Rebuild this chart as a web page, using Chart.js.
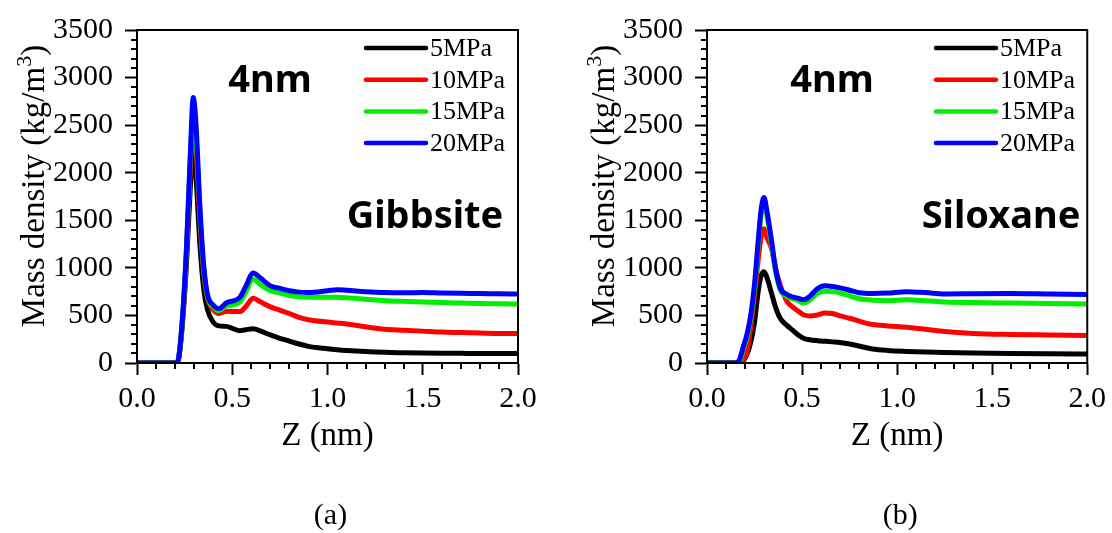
<!DOCTYPE html>
<html>
<head>
<meta charset="utf-8">
<script src="https://cdn.jsdelivr.net/npm/chart.js@4.4.1/dist/chart.umd.min.js"></script>
<style>
  html, body { margin: 0; padding: 0; background: #fff; }
  body { width: 1112px; height: 533px; position: relative; overflow: hidden; }
  canvas { position: absolute; top: 0; }
</style>
</head>
<body>
<canvas id="gibbsite" width="570" height="533" style="left:0"></canvas>
<canvas id="siloxane" width="542" height="533" style="left:570px"></canvas>
<script>
// pressure series, shared by both panels
const pressures = ["5MPa", "10MPa", "15MPa", "20MPa"];

// (a) Gibbsite wall: Z (nm) and mass density (kg/m3)
const zGibbsite = [0, 0.2, 0.21, 0.22, 0.24, 0.26, 0.28, 0.295, 0.31, 0.33, 0.35, 0.37, 0.40, 0.43,
  0.47, 0.50, 0.54, 0.57, 0.61, 0.65, 0.70, 0.75, 0.80, 0.85, 0.90, 1.0, 1.05, 1.1, 1.2, 1.3,
  1.4, 1.5, 1.6, 1.7, 1.8, 1.9, 2.0];
const gib5 = [0, 0, 0, 60, 450, 1050, 1850, 2260, 1950, 1250, 780, 560, 430, 390,
  385, 365, 340, 350, 360, 335, 295, 260, 230, 200, 175, 150, 140, 132, 120, 112,
  108, 105, 103, 102, 100, 100, 100];
const gib10 = [0, 0, 0, 65, 480, 1150, 2050, 2520, 2250, 1500, 950, 680, 560, 520,
  545, 540, 540, 590, 680, 640, 590, 555, 520, 480, 455, 430, 420, 410, 380, 355,
  345, 335, 325, 320, 315, 310, 310];
const gib15 = [0, 0, 0, 70, 500, 1200, 2150, 2650, 2380, 1600, 1000, 700, 590, 550,
  600, 610, 640, 740, 880, 820, 760, 735, 710, 695, 690, 690, 690, 685, 670, 655,
  648, 642, 635, 630, 625, 622, 620];
const gib20 = [0, 0, 0, 70, 510, 1230, 2200, 2790, 2500, 1650, 1030, 720, 610, 572,
  634, 650, 690, 800, 946, 890, 811, 785, 760, 745, 740, 759, 770, 765, 750, 740,
  738, 740, 735, 732, 730, 727, 725];

// (b) Siloxane wall
const zSiloxane = [0, 0.15, 0.17, 0.19, 0.21, 0.23, 0.25, 0.27, 0.285, 0.30, 0.315, 0.34, 0.36,
  0.385, 0.42, 0.45, 0.48, 0.51, 0.54, 0.58, 0.62, 0.66, 0.70, 0.75, 0.80, 0.87, 0.95,
  1.05, 1.15, 1.25, 1.4, 1.6, 1.8, 2.0];
const sil5 = [0, 0, 0, 20, 90, 220, 430, 760, 920, 960, 900, 730, 590,
  470, 395, 345, 295, 258, 245, 235, 228, 222, 215, 200, 178, 148, 132,
  122, 115, 110, 105, 100, 97, 95];
const sil10 = [0, 0, 0, 30, 120, 380, 720, 1100, 1330, 1410, 1320, 1200, 1000,
  820, 650, 590, 545, 505, 495, 505, 525, 520, 495, 470, 440, 405, 390,
  375, 355, 330, 310, 300, 295, 290];
const sil15 = [0, 0, 5, 140, 270, 470, 780, 1250, 1570, 1680, 1550, 1230, 970,
  770, 700, 675, 655, 630, 660, 730, 755, 750, 735, 705, 675, 660, 655,
  665, 655, 640, 635, 630, 625, 620];
const sil20 = [0, 0, 30, 166, 300, 500, 830, 1300, 1620, 1740, 1600, 1280, 1000,
  790, 720, 695, 680, 666, 700, 780, 812, 805, 790, 765, 738, 730, 735,
  750, 740, 725, 728, 730, 725, 720];

const lineColors = ["#000000", "#ff0000", "#00ee00", "#0000ff"];
const serif = '"Times New Roman", "Liberation Serif", serif';
const sans = '"Noto Sans", "Open Sans", sans-serif';

Chart.defaults.color = "#000";

// box, minor ticks, legend, titles and labels
function panelDecor(o) {
  return {
    id: "panelDecor",
    afterDraw(chart) {
      const { ctx, chartArea: a } = chart;
      const xs = chart.scales.x, ys = chart.scales.y;
      ctx.save();
      ctx.strokeStyle = "#000";
      ctx.lineWidth = 2;
      ctx.strokeRect(a.left, a.top, a.right - a.left, a.bottom - a.top);

      ctx.beginPath();
      for (let k = 1; k < 20; k++) {
        if (k % 5 === 0) continue;
        const px = Math.round(xs.getPixelForValue(k / 10));
        ctx.moveTo(px, a.bottom);
        ctx.lineTo(px, a.bottom + 6);
      }
      for (let v = 100; v < 3500; v += 100) {
        if (v % 500 === 0) continue;
        const py = Math.round(ys.getPixelForValue(v));
        ctx.moveTo(a.left, py);
        ctx.lineTo(a.left - 6, py);
      }
      ctx.stroke();

      // legend
      ctx.font = "26px " + serif;
      ctx.textAlign = "left";
      ctx.textBaseline = "middle";
      ctx.lineCap = "round";
      pressures.forEach((p, i) => {
        const y = 48 + i * 31.7;
        ctx.strokeStyle = lineColors[i];
        ctx.lineWidth = 4.5;
        ctx.beginPath();
        ctx.moveTo(a.left + 229, y);
        ctx.lineTo(a.left + 289, y);
        ctx.stroke();
        ctx.fillStyle = "#000";
        ctx.fillText(p, a.left + 293, y + 1);
      });

      // in-plot labels
      ctx.font = "bold 38px " + sans;
      ctx.textAlign = "center";
      ctx.textBaseline = "alphabetic";
      ctx.fillText("4nm", o.sizeX, 92);
      ctx.fillText(o.name, o.nameX, 228);

      // axis titles
      ctx.font = "33px " + serif;
      ctx.fillText("Z (nm)", (a.left + a.right) / 2, 445);

      ctx.save();
      ctx.translate(44, 186);
      ctx.rotate(-Math.PI / 2);
      const main = "Mass density (kg/m";
      const w1 = ctx.measureText(main).width;
      ctx.font = "22px " + serif;
      const w2 = ctx.measureText("3").width;
      ctx.font = "33px " + serif;
      const w3 = ctx.measureText(")").width;
      let x0 = -(w1 + w2 + w3) / 2;
      ctx.textAlign = "left";
      ctx.fillText(main, x0, 0);
      ctx.font = "22px " + serif;
      ctx.fillText("3", x0 + w1, -13);
      ctx.font = "33px " + serif;
      ctx.fillText(")", x0 + w1 + w2, 0);
      ctx.restore();

      ctx.font = "30px " + serif;
      ctx.textAlign = "center";
      ctx.textBaseline = "middle";
      ctx.fillText(o.caption, (a.left + a.right) / 2 + 3, 516);
      ctx.restore();
    }
  };
}

function buildChart(id, z, series, o) {
  return new Chart(document.getElementById(id), {
    type: "line",
    data: {
      datasets: series.map((vals, i) => ({
        label: pressures[i],
        data: z.map((x, k) => ({ x: x, y: vals[k] })),
        borderColor: lineColors[i],
        borderWidth: 5,
        pointRadius: 0,
        cubicInterpolationMode: "monotone",
        order: series.length - i,
      })),
    },
    options: {
      responsive: false,
      animation: false,
      events: [],
      layout: { padding: { left: 0, top: 27, right: o.rightPad, bottom: 0 } },
      plugins: { legend: { display: false }, tooltip: { enabled: false } },
      scales: {
        x: {
          type: "linear",
          min: 0,
          max: 2,
          afterFit: (s) => { s.height = 170; },
          border: { color: "#000", width: 2 },
          grid: { drawOnChartArea: false, tickLength: 12, tickWidth: 2, tickColor: "#000" },
          ticks: {
            stepSize: 0.5,
            padding: 6,
            maxRotation: 0,
            color: "#000",
            font: { family: serif, size: 30 },
            callback: (v) => v.toFixed(1),
          },
        },
        y: {
          min: 0,
          max: 3500,
          afterFit: (s) => { s.width = 137; },
          border: { color: "#000", width: 2 },
          grid: { drawOnChartArea: false, tickLength: 12, tickWidth: 2, tickColor: "#000" },
          ticks: {
            stepSize: 500,
            padding: 12,
            color: "#000",
            font: { family: serif, size: 30 },
            callback: (v) => String(v),
          },
        },
      },
    },
    plugins: [panelDecor(o)],
  });
}

buildChart("gibbsite", zGibbsite, [gib5, gib10, gib15, gib20],
  { name: "Gibbsite", caption: "(a)", sizeX: 270, nameX: 425, rightPad: 52 });
buildChart("siloxane", zSiloxane, [sil5, sil10, sil15, sil20],
  { name: "Siloxane", caption: "(b)", sizeX: 262, nameX: 431, rightPad: 24 });
</script>
</body>
</html>
